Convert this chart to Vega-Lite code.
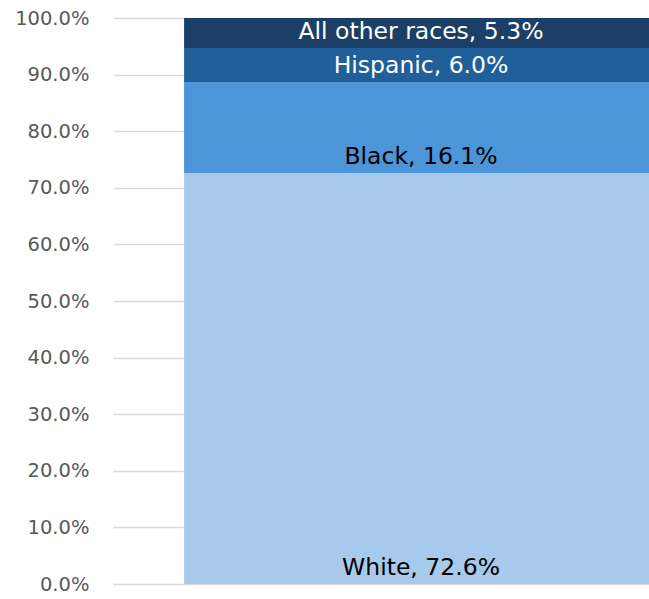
{
  "$schema": "https://vega.github.io/schema/vega-lite/v6.json",
  "width": 616,
  "height": 566,
  "autosize": "none",
  "padding": {"left": 113, "top": 18, "right": 0, "bottom": 15},
  "config": {"view": {"stroke": null}, "font": "DejaVu Sans"},
  "data": {
    "values": [
      {"group": "Total", "race": "White", "pct": 0.726, "order": 1},
      {"group": "Total", "race": "Black", "pct": 0.161, "order": 2},
      {"group": "Total", "race": "Hispanic", "pct": 0.060, "order": 3},
      {"group": "Total", "race": "All other races", "pct": 0.053, "order": 4}
    ]
  },
  "transform": [
    {"stack": "pct", "groupby": ["group"], "sort": [{"field": "order", "order": "ascending"}], "as": ["y0", "y1"]},
    {"calculate": "datum.race + ', ' + format(datum.pct * 100, '.1f') + '%'", "as": "label"}
  ],
  "encoding": {
    "x": {"field": "group", "type": "nominal", "axis": null, "scale": {"paddingInner": 0, "paddingOuter": 0.15}}
  },
  "layer": [
    {
      "mark": {"type": "bar"},
      "encoding": {
        "y": {
          "field": "y0", "type": "quantitative",
          "scale": {"domain": [0, 1], "nice": false},
          "axis": {
            "title": null, "format": ".1%", "values": [0, 0.1, 0.2, 0.3, 0.4, 0.5, 0.6, 0.7, 0.8, 0.9, 1.0],
            "ticks": false, "domain": false, "grid": true, "gridColor": "#d9d9d9", "gridWidth": 1.3,
            "labelFontSize": 19.5, "labelColor": "#595959", "labelPadding": 24, "labelFont": "DejaVu Sans"
          }
        },
        "y2": {"field": "y1"},
        "color": {
          "field": "race", "type": "nominal", "legend": null,
          "scale": {
            "domain": ["White", "Black", "Hispanic", "All other races"],
            "range": ["#a7c9eb", "#4d95d9", "#215f9a", "#1b3f66"]
          }
        }
      }
    },
    {
      "mark": {"type": "text", "dy": -16, "baseline": "middle", "align": "center", "fontSize": 23.5},
      "encoding": {
        "y": {"field": "y0", "type": "quantitative"},
        "text": {"field": "label", "type": "nominal"},
        "color": {"condition": {"test": "datum.order >= 3", "value": "#ffffff"}, "value": "#000000"}
      }
    }
  ]
}
